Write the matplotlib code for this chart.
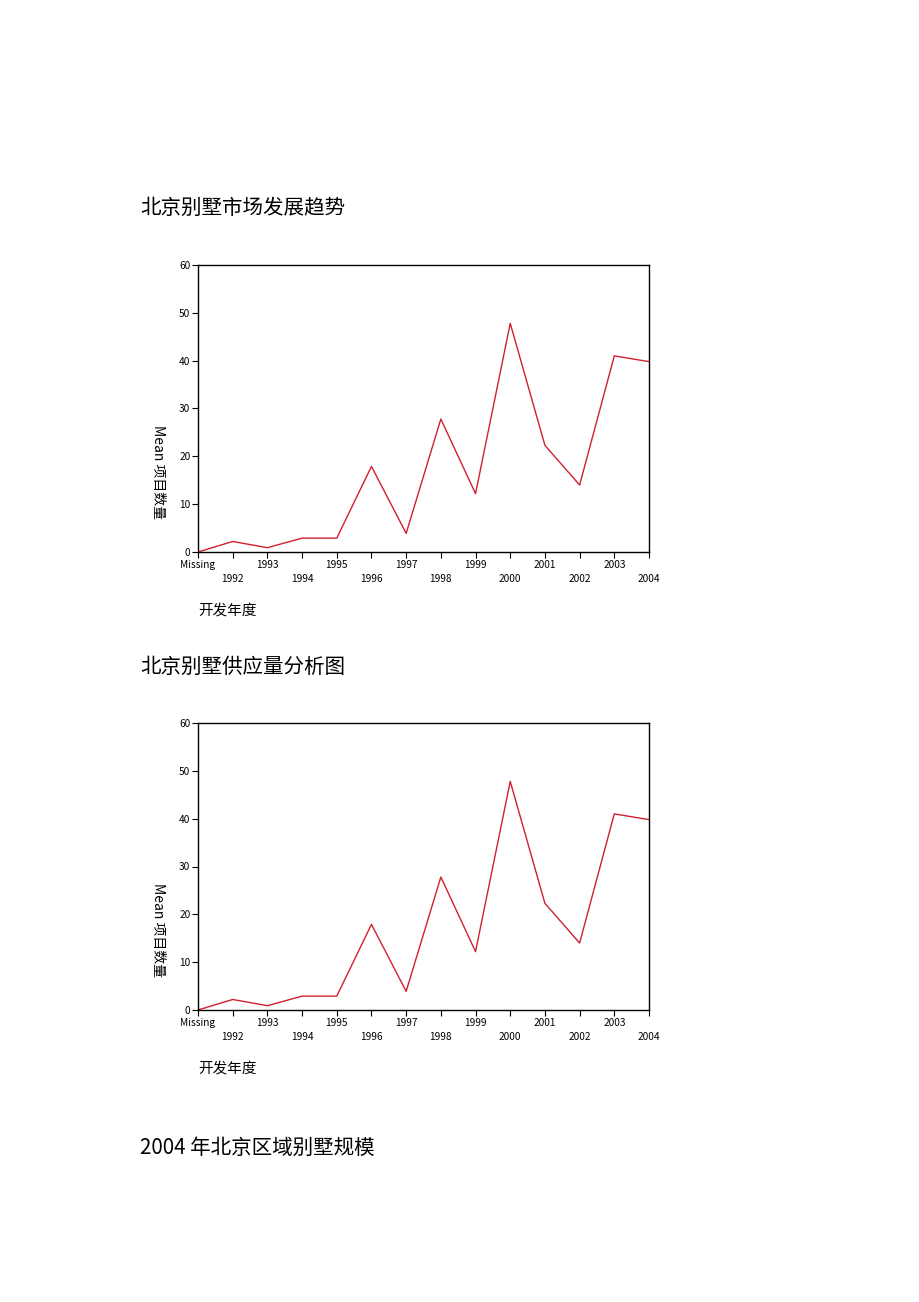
import matplotlib
matplotlib.use("Agg")
from matplotlib import pyplot as plt

plt.rcParams['font.family'] = ['Noto Sans CJK SC', 'DejaVu Sans']

# 数据
years = ['Missing', '1992', '1993', '1994', '1995', '1996', '1997',
         '1998', '1999', '2000', '2001', '2002', '2003', '2004']
counts = [0, 2.2, 0.9, 2.9, 2.9, 17.9, 3.9, 27.8, 12.2, 47.8, 22.3, 14.0, 41.0, 39.8]
yticks = [0, 10, 20, 30, 40, 50, 60]

headings = ['北京别墅市场发展趋势', '北京别墅供应量分析图', '2004 年北京区域别墅规模']
heading_y = [208, 667, 1148]   # 像素
axes_top = [265, 723]          # 像素

W, H = 920, 1302
fig = plt.figure(figsize=(W / 100, H / 100), dpi=100)

for t, y in zip(headings, heading_y):
    fig.text(140 / W, 1 - y / H, t, fontsize=14.8, va='center', ha='left')

x = list(range(len(years)))
for top in axes_top:
    bottom = top + 287
    ax = fig.add_axes([198 / W, 1 - bottom / H, (649 - 198) / W, 287 / H])
    ax.plot(x, counts, color='#d02030', lw=1.0)
    ax.set_xlim(0, len(years) - 1)
    ax.set_ylim(0, 60)
    ax.set_yticks(yticks)
    ax.set_yticklabels([str(v) for v in yticks], fontsize=7.3)
    ax.set_xticks(x)
    # 两行交错的刻度标签
    labels = [y if i % 2 == 0 else '\n' + y for i, y in enumerate(years)]
    ax.set_xticklabels(labels, fontsize=7.3, linespacing=1.55)
    ax.tick_params(axis='both', direction='out', length=4, width=0.8, pad=1.5)
    for s in ax.spines.values():
        s.set_linewidth(1.0)
    ax.set_ylabel('Mean 项目数量', fontsize=10, rotation=270, va='center')
    ax.yaxis.set_label_coords(-0.088, 0.28)
    ax.text(0, -0.205, '开发年度', transform=ax.transAxes, fontsize=10.5,
            ha='left', va='center')

fig.savefig('out.png', dpi=100)
